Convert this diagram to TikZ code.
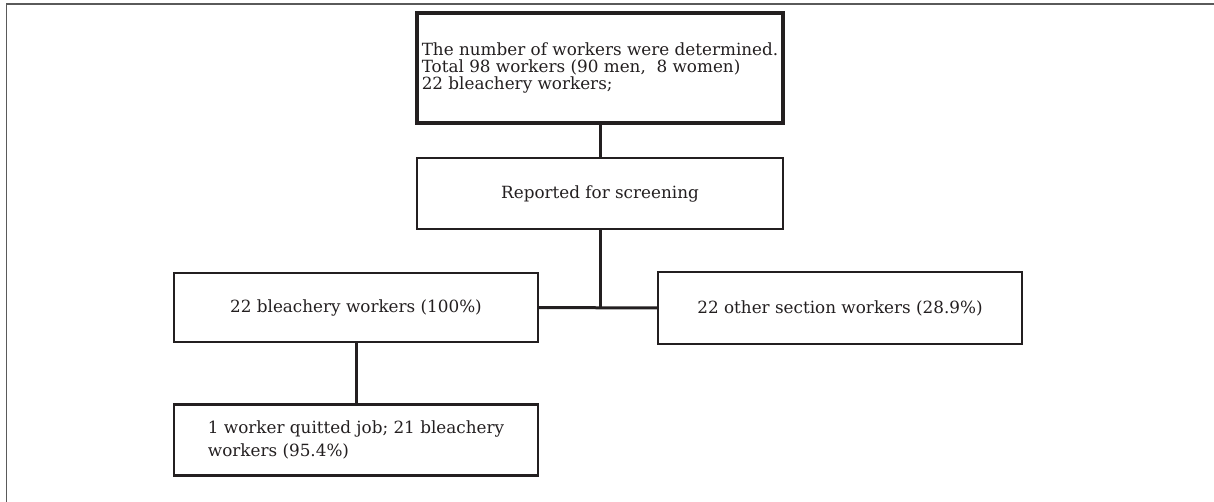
\documentclass[tikz,border=0pt]{standalone}
\usepackage{fontspec}
\setmainfont{DejaVu Serif}
\usepackage{tikz}
\usetikzlibrary{calc}
\definecolor{inkdark}{HTML}{231F20}
\definecolor{framegray}{HTML}{5A5A5A}

\begin{document}
\begin{tikzpicture}[x=0.5pt, y=-0.5pt,
        stagebox/.style={draw=inkdark, line width=1.2pt, text=inkdark, align=left, inner sep=0pt,
            font=\fontsize{8.4}{8.5}\selectfont},
        link/.style={draw=inkdark, line width=1.5pt}]
        \useasboundingbox (0, 0) rectangle (1214, 502);
        \draw[framegray, line width=0.8pt] (6.5, 502) -- (6.5, 4) -- (1214, 4);
        \node[stagebox, line width=2pt, minimum width=183pt, minimum height=55pt] (total) at (600, 68)
            {The number of workers were determined.\\Total 98 workers (90 men,\ \ 8 women)\\22 bleachery workers;};
        \node[stagebox, minimum width=183pt, minimum height=35.5pt] (screen) at (600, 193.5) {Reported for screening};
        \node[stagebox, minimum width=182pt, minimum height=34.5pt] (bleach) at (356, 307.5) {22 bleachery workers (100\%)};
        \node[stagebox, minimum width=182pt, minimum height=36pt] (other) at (840, 308) {22 other section workers (28.9\%)};
        \node[stagebox, font=\fontsize{8.4}{11.5}\selectfont, minimum width=182pt, minimum height=35.5pt] (quit) at (356, 440)
            {1 worker quitted job; 21 bleachery\\workers (95.4\%)};
        \coordinate (J) at (screen.south |- bleach.east);
        \draw[link] (total) -- (screen);
        \draw[link] (screen) -- (J);
        \draw[link] (bleach) -- (other);
        \draw[link] (bleach) -- (quit);
    \end{tikzpicture}
\end{document}
